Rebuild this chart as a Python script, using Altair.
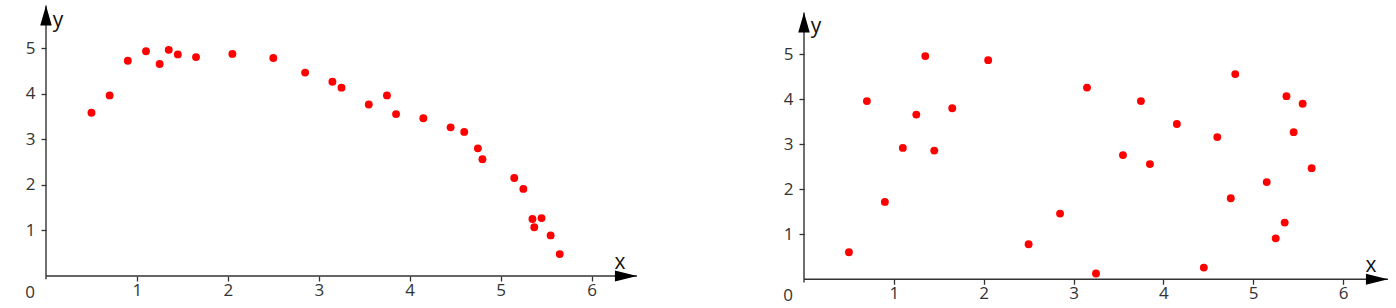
import altair as alt
import pandas as pd

# ---- data ----
x_vals = [0.5, 0.7, 0.9, 1.1, 1.25, 1.35, 1.45, 1.65, 2.05, 2.5, 2.85, 3.15, 3.25, 3.55,
          3.75, 3.85, 4.15, 4.45, 4.6, 4.75, 4.8, 5.15, 5.25, 5.35, 5.37, 5.45, 5.55, 5.65]
y_left = [3.58, 3.96, 4.72, 4.93, 4.65, 4.96, 4.86, 4.80, 4.87, 4.78, 4.46, 4.26, 4.13, 3.76,
          3.96, 3.55, 3.46, 3.26, 3.16, 2.80, 2.56, 2.15, 1.91, 1.25, 1.07, 1.27, 0.89, 0.48]
y_right = [0.60, 3.96, 1.72, 2.92, 3.66, 4.96, 2.86, 3.80, 4.87, 0.78, 1.46, 4.26, 0.13, 2.76,
           3.96, 2.56, 3.45, 0.26, 3.16, 1.80, 4.56, 2.16, 0.91, 1.26, 4.07, 3.27, 3.90, 2.47]
x_ticks = [1, 2, 3, 4, 5, 6]
y_ticks = [1, 2, 3, 4, 5]
x_end = 6.5
y_end = 5.93
origin_label = "0"
x_name = "x"
y_name = "y"

FONT = "Open Sans"
INK = "#333333"
ARROW_X = "M0,0 L-2.1,-0.52 L-2.1,0.52 Z"
ARROW_Y = "M0,0 L-0.55,1.9 L0.55,1.9 Z"


def panel(yvals, width, height, ytop):
    xs = alt.Scale(domain=[0, x_end], nice=False, zero=False)
    ys = alt.Scale(domain=[0, ytop], nice=False, zero=False)
    xax = alt.Axis(values=x_ticks, domain=False, grid=False, tickSize=5, tickColor=INK,
                   tickWidth=1.3, labelFont=FONT, labelFontSize=17, labelColor=INK,
                   labelPadding=1, title=None, format="d")
    yax = alt.Axis(values=y_ticks, domain=False, grid=False, tickSize=5, tickColor=INK,
                   tickWidth=1.3, labelFont=FONT, labelFontSize=17, labelColor=INK,
                   labelPadding=6, title=None, format="d")

    def X(f="x"):
        return alt.X(f + ":Q", scale=xs, axis=xax)

    def Y(f="y"):
        return alt.Y(f + ":Q", scale=ys, axis=yax)

    pts = alt.Chart(pd.DataFrame({"x": x_vals, "y": yvals})).mark_circle(
        color="#ff0000", size=62, opacity=1).encode(x=X(), y=Y())

    xline = alt.Chart(pd.DataFrame({"x": [0], "x2": [x_end], "y": [0]})).mark_rule(
        color=INK, strokeWidth=1.4).encode(x=X(), x2="x2:Q", y=Y())
    yline = alt.Chart(pd.DataFrame({"x": [0], "y": [-0.07], "y2": [y_end]})).mark_rule(
        color=INK, strokeWidth=1.4).encode(x=X(), y=Y(), y2="y2:Q")

    xarrow = alt.Chart(pd.DataFrame({"x": [x_end], "y": [0]})).mark_point(
        shape=ARROW_X, size=441, filled=True, color="#000000", opacity=1,
        strokeWidth=0).encode(x=X(), y=Y())
    yarrow = alt.Chart(pd.DataFrame({"x": [0], "y": [y_end]})).mark_point(
        shape=ARROW_Y, size=441, filled=True, color="#000000", opacity=1,
        strokeWidth=0).encode(x=X(), y=Y())

    xt = alt.Chart(pd.DataFrame({"x": [x_end], "y": [0], "t": [x_name]})).mark_text(
        font=FONT, fontSize=21, color="#111111", dx=-17, dy=-7, align="center",
        baseline="alphabetic").encode(x=X(), y=Y(), text="t:N")
    yt = alt.Chart(pd.DataFrame({"x": [0], "y": [y_end], "t": [y_name]})).mark_text(
        font=FONT, fontSize=21, color="#111111", dx=12, dy=21, align="center",
        baseline="alphabetic").encode(x=X(), y=Y(), text="t:N")
    ot = alt.Chart(pd.DataFrame({"x": [0], "y": [0], "t": [origin_label]})).mark_text(
        font=FONT, fontSize=17, color=INK, dx=-16, dy=22, align="center",
        baseline="alphabetic").encode(x=X(), y=Y(), text="t:N")

    return alt.layer(xline, yline, xarrow, yarrow, pts, xt, yt, ot).properties(
        width=width, height=height)


left = panel(y_left, 591, 271, 271 / 45.6)
right = panel(y_right, 584, 274.3, 274.3 / 45.0)

chart = alt.hconcat(left, right, spacing=145).properties(
    padding={"left": 25, "top": 4, "right": 5, "bottom": 5},
    background="white",
).configure_view(strokeWidth=0, stroke="transparent")

chart.save("out.html", embed_options={"renderer": "svg", "actions": False})
